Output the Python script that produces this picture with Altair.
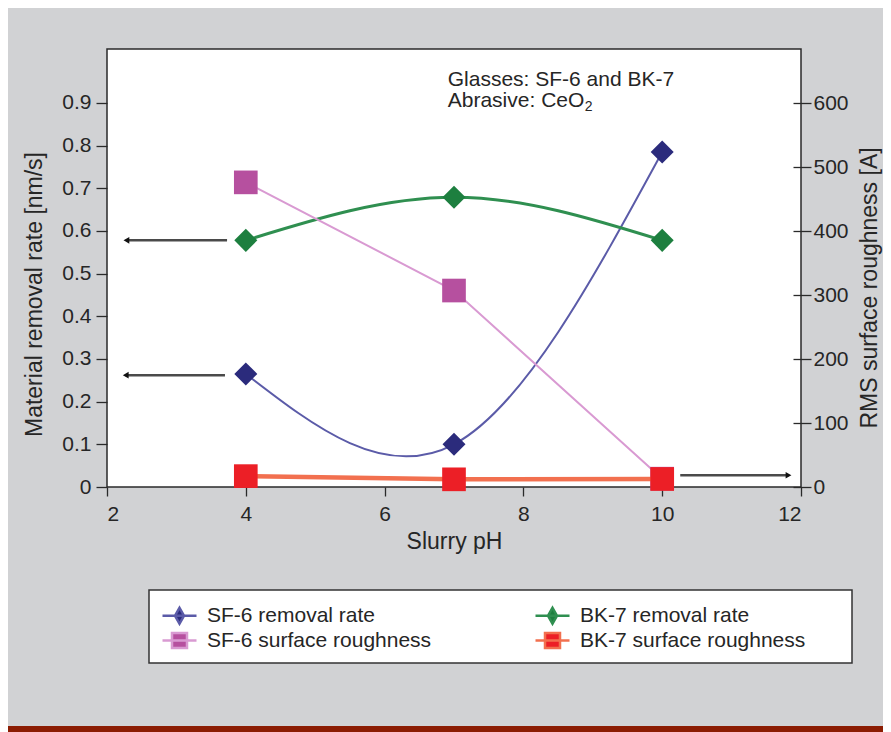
import altair as alt
import pandas as pd

# ------------------------------------------------------------------ data
ph = [4, 7, 10]
sf6_removal = [0.265, 0.10, 0.785]        # nm/s  (left axis)
bk7_removal = [0.578, 0.679, 0.578]       # nm/s  (left axis)
sf6_roughness = [476, 307, 13]            # A     (right axis)
bk7_roughness = [17, 12, 12.5]            # A     (right axis)

series = ["SF-6 removal rate", "BK-7 removal rate",
          "SF-6 surface roughness", "BK-7 surface roughness"]

x_ticks = [2, 4, 6, 8, 10, 12]
left_ticks = [0, 0.1, 0.2, 0.3, 0.4, 0.5, 0.6, 0.7, 0.8, 0.9]
right_ticks = [0, 100, 200, 300, 400, 500, 600]

note_lines = ["Glasses: SF-6 and BK-7", "Abrasive: CeO"]
note_sub = ["2"]

# annotation anchors (data units, left axis)
note_x = [6.91, 6.91]
note_y = [0.940, 0.891]
sub_x = [8.885]
sub_y = [0.881]

# arrows pointing to the axis each group of curves belongs to
arrow_y = [0.578, 0.262, 0.0275]
arrow_from = [3.73, 3.70, 10.26]
arrow_to = [2.28, 2.27, 11.82]
arrow_dir = ["left", "left", "right"]

# ------------------------------------------------------------------ style
FONT = "Liberation Sans"
TXT = "#262626"
marker_colors = ["#2b2b7c", "#1d7f3f", "#b6509f", "#ec1f26"]
line_colors = ["#5b5ba8", "#2f8f50", "#d99ad2", "#f2704f"]
legend_shapes = [
    "M-1.2,0L2.2,0M0.5,-0.8L0.95,0L0.5,0.8L0.05,0Z",
    "M-1.2,0L2.2,0M0.5,-0.8L0.95,0L0.5,0.8L0.05,0Z",
    "M-1.2,0L2.2,0M-0.25,-0.75L1.25,-0.75L1.25,0.75L-0.25,0.75Z",
    "M-1.2,0L2.2,0M-0.25,-0.75L1.25,-0.75L1.25,0.75L-0.25,0.75Z",
]

x_scale = alt.Scale(domain=[2, 12], nice=False, zero=False)
yl_scale = alt.Scale(domain=[0, 1.0265], nice=False)
yr_scale = alt.Scale(domain=[0, 684.4], nice=False)

x_axis = alt.Axis(title="Slurry pH", values=x_ticks, format="d", tickSize=9,
                  labelPadding=7, titlePadding=6)
yl_axis = alt.Axis(title="Material removal rate [nm/s]", values=left_ticks,
                   format=".1~f", tickSize=11, labelPadding=5, titlePadding=15,
                   titleY=245, orient="left")
yr_axis = alt.Axis(title="RMS surface roughness [A]", values=right_ticks,
                   format="d", tickSize=18, offset=-8, labelPadding=2,
                   titleAngle=270, titleBaseline="top", titlePadding=10,
                   titleY=238.5, orient="right")


def X(field="ph"):
    return alt.X(f"{field}:Q", scale=x_scale, axis=x_axis)


def YL(field="value"):
    return alt.Y(f"{field}:Q", scale=yl_scale, axis=yl_axis)


def YR(field="value"):
    return alt.Y(f"{field}:Q", scale=yr_scale, axis=yr_axis)


def frame(vals):
    return pd.DataFrame({"ph": ph, "value": vals})


one = pd.DataFrame({"a": [0]})

# ------------------------------------------------------------------ left group
band = alt.Chart(one).mark_rect(color="#8b1c02").encode(
    x=alt.value(-99), x2=alt.value(776), y=alt.value(677), y2=alt.value(690))
legend_box = alt.Chart(one).mark_rect(
    fill="white", stroke="#333333", strokeWidth=1.5).encode(
    x=alt.value(42), x2=alt.value(745), y=alt.value(541), y2=alt.value(614))

sf6_line = alt.Chart(frame(sf6_removal)).mark_line(
    interpolate="natural", color=line_colors[0], strokeWidth=2).encode(x=X(), y=YL())
bk7_line = alt.Chart(frame(bk7_removal)).mark_line(
    interpolate="natural", color=line_colors[1], strokeWidth=3).encode(x=X(), y=YL())
sf6_pts = alt.Chart(frame(sf6_removal)).mark_point(
    shape="diamond", filled=True, size=530, opacity=1, color=marker_colors[0]
).encode(x=X(), y=YL())
bk7_pts = alt.Chart(frame(bk7_removal)).mark_point(
    shape="diamond", filled=True, size=530, opacity=1, color=marker_colors[1]
).encode(x=X(), y=YL())

arrows_df = pd.DataFrame({"ph": arrow_from, "ph2": arrow_to, "value": arrow_y,
                          "dir": arrow_dir})
arrow_lines = alt.Chart(arrows_df).mark_rule(color="#4a4a4a", strokeWidth=2.5).encode(
    x=X(), x2="ph2:Q", y=YL())
heads_df = pd.DataFrame({"ph": arrow_to, "value": arrow_y, "dir": arrow_dir})
heads_left = alt.Chart(heads_df).transform_filter("datum.dir == 'left'").mark_point(
    shape="triangle-left", filled=True, size=45, opacity=1, color="#111111"
).encode(x=X(), y=YL())
heads_right = alt.Chart(heads_df).transform_filter("datum.dir == 'right'").mark_point(
    shape="triangle-right", filled=True, size=45, opacity=1, color="#111111"
).encode(x=X(), y=YL())

notes = alt.Chart(pd.DataFrame({"ph": note_x, "value": note_y, "t": note_lines})).mark_text(
    align="left", baseline="alphabetic", font=FONT, fontSize=21, color=TXT
).encode(x=X(), y=YL(), text="t:N")
sub = alt.Chart(pd.DataFrame({"ph": sub_x, "value": sub_y, "t": note_sub})).mark_text(
    align="left", baseline="alphabetic", font=FONT, fontSize=14, color=TXT
).encode(x=X(), y=YL(), text="t:N")

legend = alt.Legend(
    title=None, orient="none", legendX=42, legendY=541, columns=2,
    direction="horizontal", padding=14,
    labelFont=FONT, labelFontSize=21, labelColor=TXT, labelLimit=500,
    symbolSize=400, symbolStrokeWidth=2.5, symbolOpacity=1,
    labelOffset=21, columnPadding=98, rowPadding=-3,
)
legend_df = pd.DataFrame({"ph": [4, 4, 4, 4], "value": [0, 0, 0, 0], "s": series})
legend_layer = alt.Chart(legend_df).transform_filter("datum.ph > 100").mark_point(
    filled=True, opacity=1, strokeWidth=2.5
).encode(
    x=X(), y=YL(),
    fill=alt.Fill("s:N", scale=alt.Scale(domain=series, range=marker_colors), legend=legend),
    stroke=alt.Stroke("s:N", scale=alt.Scale(domain=series, range=line_colors), legend=legend),
    shape=alt.Shape("s:N", scale=alt.Scale(domain=series, range=legend_shapes), legend=legend),
)

left = alt.layer(band, legend_box, arrow_lines, heads_left, heads_right, sf6_line,
                 bk7_line, sf6_pts, bk7_pts, notes, sub, legend_layer)

# ------------------------------------------------------------------ right group
sf6r_line = alt.Chart(frame(sf6_roughness)).mark_line(
    color=line_colors[2], strokeWidth=2).encode(x=X(), y=YR())
bk7r_line = alt.Chart(frame(bk7_roughness)).mark_line(
    color=line_colors[3], strokeWidth=4.5).encode(x=X(), y=YR())
sf6r_pts = alt.Chart(frame(sf6_roughness)).mark_point(
    shape="square", filled=True, size=560, opacity=1, color=marker_colors[2]
).encode(x=X(), y=YR())
bk7r_pts = alt.Chart(frame(bk7_roughness)).mark_point(
    shape="square", filled=True, size=560, opacity=1, color=marker_colors[3]
).encode(x=X(), y=YR())

right = alt.layer(sf6r_line, sf6r_pts, bk7r_line, bk7r_pts)

chart = alt.layer(left, right).resolve_scale(y="independent").properties(
    width=694, height=438,
    padding={"left": 99, "top": 41, "right": 82, "bottom": 245},
    autosize=alt.AutoSizeParams(type="none"),
    background="#d1d2d4",
).configure_view(
    stroke="#2a2a2a", strokeWidth=1.5, fill="white"
).configure_axis(
    labelFont=FONT, labelFontSize=21, labelColor=TXT,
    titleFont=FONT, titleFontSize=23, titleFontWeight="normal", titleColor=TXT,
    tickColor="#2a2a2a", tickWidth=1.3, grid=False, domain=False,
)

chart.save("out.html", embed_options={"renderer": "svg", "actions": False})
